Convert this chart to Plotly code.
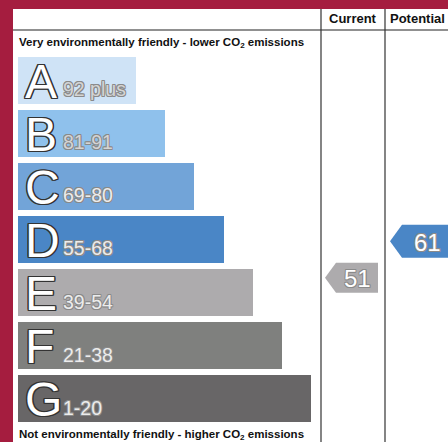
import plotly.graph_objects as go

# ---- data ----
bands = ["A", "B", "C", "D", "E", "F", "G"]
band_ranges = ["92 plus", "81-91", "69-80", "55-68", "39-54", "21-38", "1-20"]
band_min = [92, 81, 69, 55, 39, 21, 1]
band_max = [100, 91, 80, 68, 54, 38, 20]
band_colors = ["#cfe3f6", "#8fc1ec", "#72a4d8", "#4a86c6", "#adabad", "#7f807e", "#686667"]
current_score = 51
potential_score = 61
header_labels = ["Current", "Potential"]
top_label = "Very environmentally friendly - lower CO<sub>2</sub> emissions"
bottom_label = "Not environmentally friendly - higher CO<sub>2</sub> emissions"

# ---- layout geometry (pixel coordinates) ----
W, H = 448, 442
FONT = "Liberation Sans, Arial, sans-serif"
first_top = 56.5
pitch = 53.15
bar_h = 47
bar_x0 = 18
len0, len_step = 118, 29.2
col_cur, col_pot = 321, 385

centers = [first_top + i * pitch + bar_h / 2 for i in range(len(bands))]
lengths = [len0 + i * len_step for i in range(len(bands))]


def band_of(score):
    for i, (lo, hi) in enumerate(zip(band_min, band_max)):
        if lo <= score <= hi:
            return i
    return len(bands) - 1


def score_to_y(score):
    i = band_of(score)
    top = first_top + i * pitch - (pitch - bar_h) / 2
    return top + (band_max[i] + 0.5 - score) / (band_max[i] - band_min[i] + 1) * pitch


def outline_shadow(color, d):
    offs = [(-d, -d), (0, -d), (d, -d), (-d, 0), (d, 0), (-d, d), (0, d), (d, d)]
    return ", ".join(f"{x}px {y}px 0 {color}" for x, y in offs)


fig = go.Figure()

fig.add_trace(go.Bar(
    y=centers, x=lengths, base=bar_x0, orientation="h", width=bar_h,
    marker=dict(color=band_colors, line=dict(width=0)),
    hoverinfo="skip",
))

outline = outline_shadow("#333333", 1.2)
soft = outline_shadow("#8a8a8a", 0.8)

ann = []
for i, (b, r) in enumerate(zip(bands, band_ranges)):
    ann.append(dict(x=23, y=centers[i] + 1, text=b, showarrow=False, xanchor="left", yanchor="middle",
                    font=dict(family=FONT, size=48, color="white", shadow=outline)))
    rc = "#d4d4d4" if i < 2 else "#ececec"
    ann.append(dict(x=61, y=centers[i] + 9, text=r, showarrow=False, xanchor="left", yanchor="middle",
                    font=dict(family=FONT, size=19.5, color=rc, shadow=soft)))


def add_arrow(score, tip_x, body_x, right_x, h, label):
    cy = score_to_y(score)
    color = band_colors[band_of(score)]
    xs = [tip_x, body_x, right_x, right_x, body_x, tip_x]
    ys = [cy, cy - h / 2, cy - h / 2, cy + h / 2, cy + h / 2, cy]
    fig.add_trace(go.Scatter(x=xs, y=ys, fill="toself", fillcolor=color, mode="lines",
                             line=dict(width=0, color=color), hoverinfo="skip"))
    ann.append(dict(x=(body_x + right_x) / 2, y=cy + 1, text=str(label), showarrow=False,
                    xanchor="center", yanchor="middle",
                    font=dict(family=FONT, size=24, color="white", shadow=soft)))


add_arrow(current_score, 325, 336, 378, 30, current_score)
add_arrow(potential_score, 390, 402, 452, 33, potential_score)

ann.append(dict(x=(col_cur + col_pot) / 2, y=18, text="<b>" + header_labels[0] + "</b>", showarrow=False,
                xanchor="center", yanchor="middle", font=dict(family=FONT, size=13, color="#111")))
ann.append(dict(x=388, y=18, text="<b>" + header_labels[1] + "</b>", showarrow=False,
                xanchor="left", yanchor="middle", font=dict(family=FONT, size=13, color="#111")))
ann.append(dict(x=17, y=43, text="<b>" + top_label + "</b>", showarrow=False,
                xanchor="left", yanchor="middle", font=dict(family=FONT, size=11.5, color="#111")))
ann.append(dict(x=17, y=435, text="<b>" + bottom_label + "</b>", showarrow=False,
                xanchor="left", yanchor="middle", font=dict(family=FONT, size=11.5, color="#111")))

crimson = "#a51d3f"
shapes = [
    dict(type="rect", x0=0, x1=W, y0=0, y1=9, fillcolor=crimson, line=dict(width=0), layer="above"),
    dict(type="rect", x0=0, x1=13, y0=0, y1=H, fillcolor=crimson, line=dict(width=0), layer="above"),
    dict(type="line", x0=13, x1=W, y0=30, y1=30, line=dict(color="#222", width=1.2)),
    dict(type="line", x0=col_cur, x1=col_cur, y0=9, y1=H, line=dict(color="#333", width=1.2)),
    dict(type="line", x0=col_pot, x1=col_pot, y0=9, y1=H, line=dict(color="#333", width=1.2)),
]

fig.update_layout(
    width=W, height=H, margin=dict(l=0, r=0, t=0, b=0),
    paper_bgcolor="white", plot_bgcolor="white", showlegend=False,
    xaxis=dict(range=[0, W], visible=False, fixedrange=True),
    yaxis=dict(range=[H, 0], visible=False, fixedrange=True),
    shapes=shapes, annotations=ann, bargap=0,
)

fig.write_html("out.html", config={"displayModeBar": False},
               post_script="document.body.style.margin='0';document.body.style.overflow='hidden';")
